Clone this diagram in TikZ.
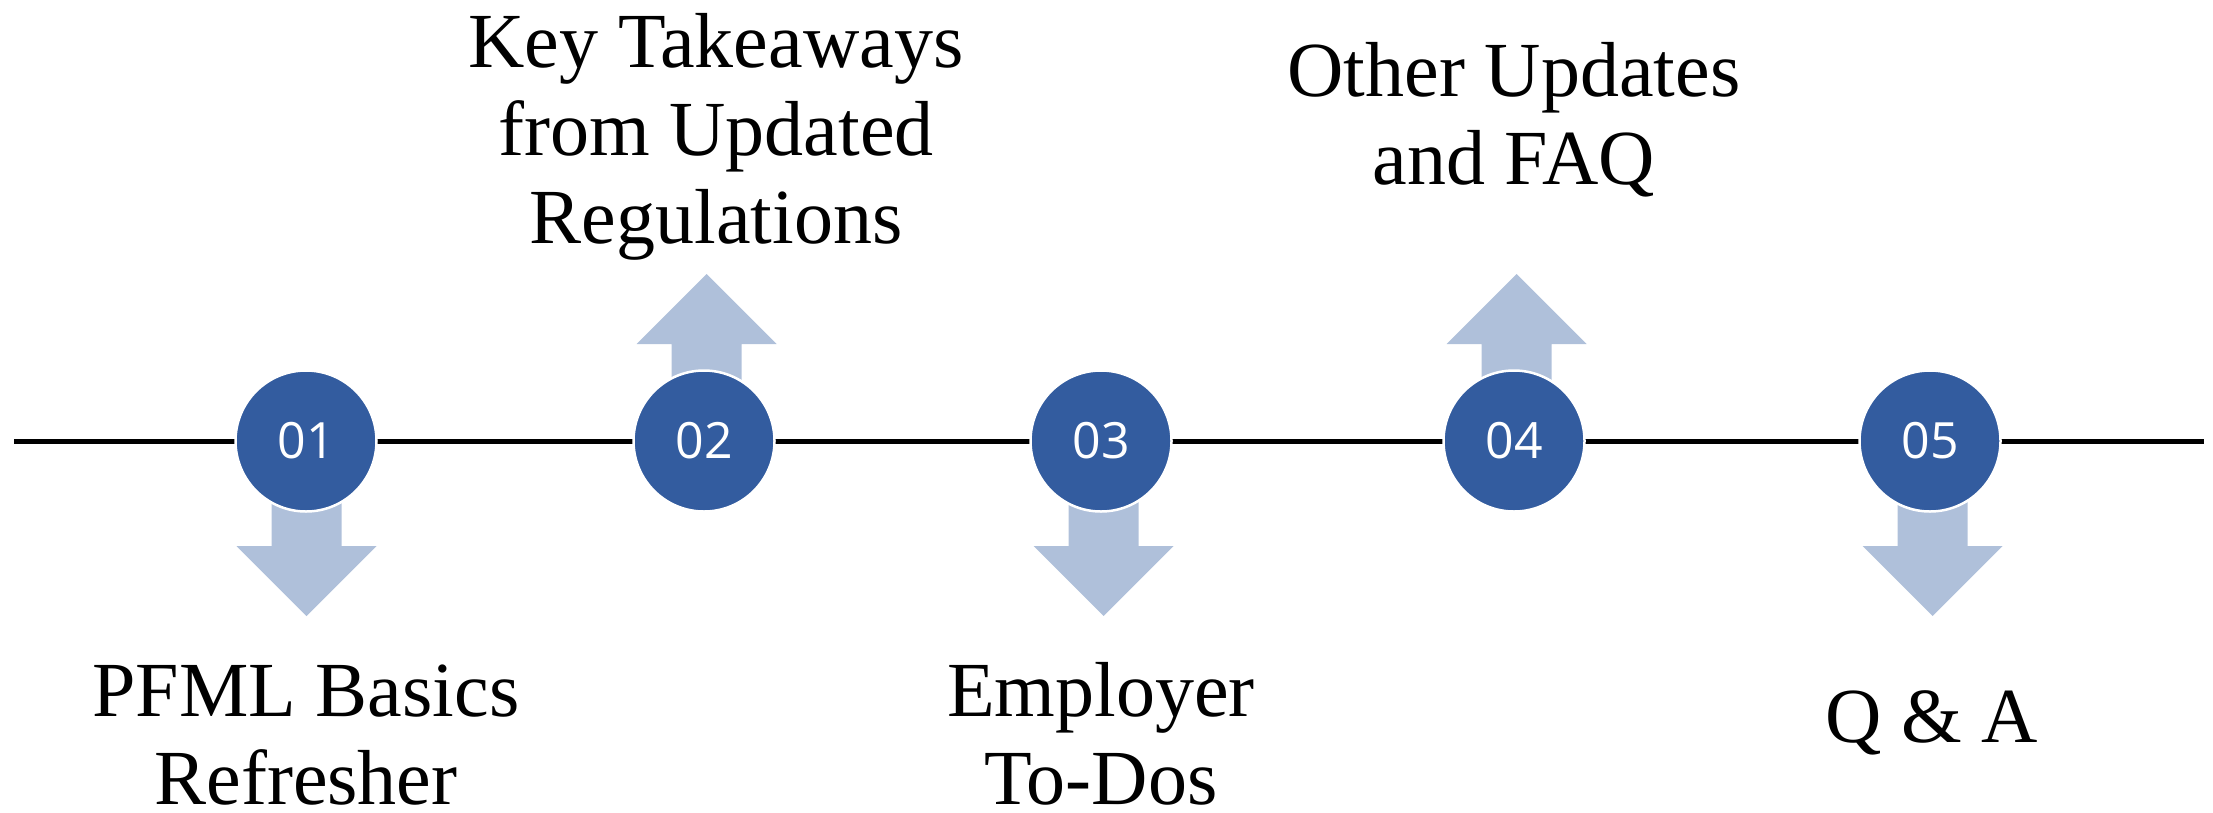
\documentclass[tikz,border=0pt]{standalone}
\usepackage{fontspec}
\setmainfont{Liberation Serif}
\newfontfamily\numfont{Open Sans}
\definecolor{stepblue}{HTML}{335C9F}
\definecolor{arrowblue}{HTML}{AFC0DA}
% arrow from a step circle: #1 = x of the arrow axis
\newcommand\pointerdown[1]{%
  \fill[pointer] (#1-35,441) -- (#1-35,546) -- (#1-70,546) -- (#1,616)
    -- (#1+70,546) -- (#1+35,546) -- (#1+35,441) -- cycle;}
\newcommand\pointerup[1]{%
  \fill[pointer] (#1-35,441) -- (#1-35,344) -- (#1-70,344) -- (#1,274)
    -- (#1+70,344) -- (#1+35,344) -- (#1+35,441) -- cycle;}
\begin{document}
\begin{tikzpicture}[x=1pt,y=-1pt,
  timeline/.style={line width=5pt, black},
  stepdot/.style={circle, fill=stepblue, draw=white, line width=2.5pt,
    minimum size=141pt, inner sep=0pt, text=white,
    font=\numfont\fontsize{50}{50}\selectfont},
  pointer/.style={fill=arrowblue},
  % anchored on the baseline of the last line
  caption/.style={align=center, anchor=base, inner sep=0pt,
    font=\fontsize{78}{88}\selectfont}
]
\useasboundingbox (0,0) rectangle (2213,812);

% the time axis
\coordinate (L) at (14,441);
\coordinate (R) at (2204,441);
\draw[timeline] (L) -- (R);

% arrows pointing to the captions
\pointerdown{306.5}
\pointerup{706.5}
\pointerdown{1103.5}
\pointerup{1516.5}
\pointerdown{1932.5}

% step markers
\node[stepdot] (s1) at (306,441) {01};
\node[stepdot] (s2) at (704,441) {02};
\node[stepdot] (s3) at (1101,441) {03};
\node[stepdot] (s4) at (1514,441) {04};
\node[stepdot] (s5) at (1930,441) {05};

% captions
\node[caption] (t1) at (306,804) {PFML Basics\\Refresher};
\node[caption] (t2) at (716,243) {Key Takeaways\\from Updated\\Regulations};
\node[caption] (t3) at (1101,804) {Employer\\To-Dos};
\node[caption] (t4) at (1514,184) {Other Updates\\and FAQ};
\node[caption] (t5) at (1932,742) {Q \& A};
\end{tikzpicture}
\end{document}
